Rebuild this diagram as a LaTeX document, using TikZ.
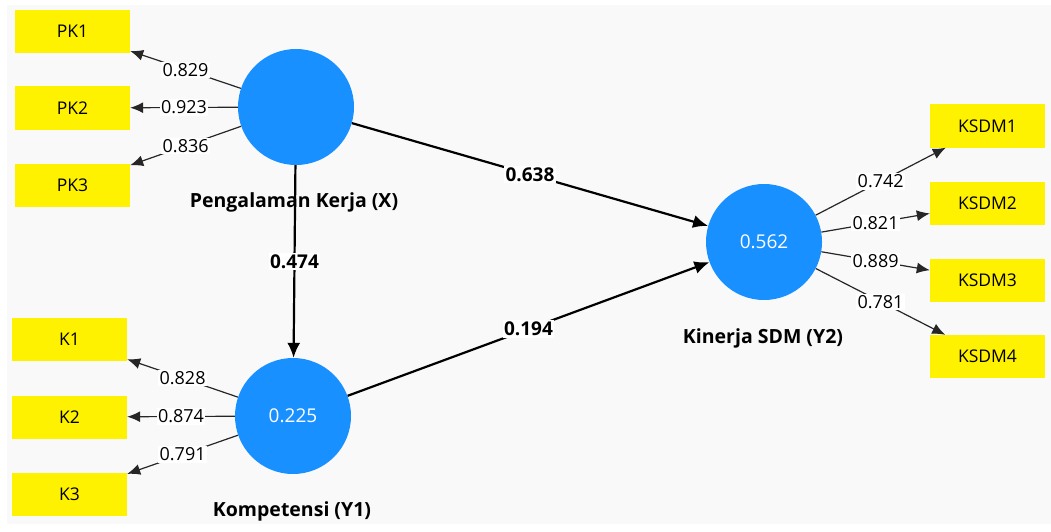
\documentclass[tikz,border=0pt]{standalone}
\usepackage{fontspec}
\setmainfont{Open Sans}
\usetikzlibrary{arrows.meta}
\definecolor{lvblue}{RGB}{24,144,255}
\definecolor{bggray}{RGB}{249,249,249}
\begin{document}
\begin{tikzpicture}[x=1pt,y=-1pt,
 ind/.style={fill=yellow, minimum width=115pt, minimum height=43pt, inner sep=0pt, font=\fontsize{17.5}{20}\selectfont},
 lat/.style={circle, fill=lvblue, minimum size=116pt, inner sep=0pt, text=white, font=\fontsize{19}{21}\selectfont},
 latname/.style={font=\bfseries\fontsize{19.5}{22}\selectfont},
 ldarrow/.style={draw=black!85, line width=1.2pt, -{Latex[length=13pt,width=11pt]}},
 starrow/.style={draw=black, line width=2.2pt, -{Latex[length=15pt,width=13pt]}},
 ldval/.style={fill=white, inner sep=1.5pt, font=\fontsize{18}{20}\selectfont},
 stval/.style={fill=white, inner sep=1.5pt, font=\bfseries\fontsize{19}{21}\selectfont}]
\useasboundingbox (0,0) rectangle (1051,532);
\fill[white] (0,0) rectangle (1051,532);
\fill[bggray] (7,5) rectangle (1051,524);

% indicators
\node[ind] (PK1) at (72.5,31.5) {PK1};
\node[ind] (PK2) at (72.5,108) {PK2};
\node[ind] (PK3) at (72.5,185.5) {PK3};
\node[ind] (K1) at (69.5,339.5) {K1};
\node[ind] (K2) at (69.5,417) {K2};
\node[ind] (K3) at (69.5,494) {K3};
\node[ind] (KSDM1) at (987.5,126) {KSDM1};
\node[ind] (KSDM2) at (987.5,203.5) {KSDM2};
\node[ind] (KSDM3) at (987.5,280) {KSDM3};
\node[ind] (KSDM4) at (987.5,356.5) {KSDM4};

% latent variables
\node[lat] (X) at (296,107) {};
\node[lat] (Y1) at (293,416) {0.225};
\node[lat] (Y2) at (764,242) {0.562};
\node[latname] (Xn) at (294,202) {Pengalaman Kerja (X)};
\node[latname] (Y1n) at (292,511) {Kompetensi (Y1)};
\node[latname] (Y2n) at (763,338) {Kinerja SDM (Y2)};

% outer loadings
\draw[ldarrow] (X) -- node[ldval]{0.829} (PK1);
\draw[ldarrow] (X) -- node[ldval]{0.923} (PK2);
\draw[ldarrow] (X) -- node[ldval]{0.836} (PK3);
\draw[ldarrow] (Y1) -- node[ldval]{0.828} (K1);
\draw[ldarrow] (Y1) -- node[ldval]{0.874} (K2);
\draw[ldarrow] (Y1) -- node[ldval]{0.791} (K3);
\draw[ldarrow] (Y2) -- node[ldval]{0.742} (KSDM1);
\draw[ldarrow] (Y2) -- node[ldval]{0.821} (KSDM2);
\draw[ldarrow] (Y2) -- node[ldval]{0.889} (KSDM3);
\draw[ldarrow] (Y2) -- node[ldval]{0.781} (KSDM4);

% path coefficients
\draw[starrow] (X) -- node[stval]{0.638} (Y2);
\draw[starrow] (Y1) -- node[stval]{0.194} (Y2);
\draw[starrow] (X) -- node[stval]{0.474} (Y1);
\end{tikzpicture}
\end{document}
